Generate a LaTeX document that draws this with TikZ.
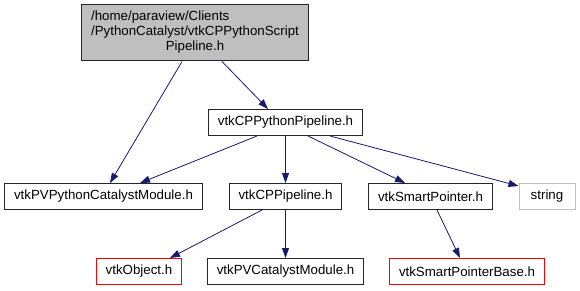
\documentclass[tikz,border=0pt]{standalone}
\usepackage{fontspec}
\setmainfont{Liberation Sans}
\usetikzlibrary{positioning,arrows.meta}
\definecolor{edgeblue}{HTML}{191970}
\definecolor{boxgray}{HTML}{BFBFBF}

\begin{document}
\begin{tikzpicture}[node distance=74pt,on grid,font=\fontsize{13.3}{15}\selectfont,
    header/.style={draw=black!85,line width=1pt,rectangle,inner xsep=9.5pt,inner ysep=0pt,minimum height=26pt},
    missing/.style={header,draw=red},
    syshdr/.style={header,draw=boxgray,minimum width=56pt},
    inc/.style={-{Triangle[length=10pt,width=7pt]},color=edgeblue,line width=0.8pt}]
    \useasboundingbox (0,0) rectangle (580pt,-291pt);
    \node[header,fill=boxgray,minimum height=56pt] (script) at (195pt,-33pt)
        {\begin{tabular}{@{}l@{}}/home/paraview/Clients\\/PythonCatalyst/vtkCPPythonScript\\
         \multicolumn{1}{@{}c@{}}{Pipeline.h}\end{tabular}};
    \node[header] (pypipe) [below right=89.5pt and 90.5pt of script] {vtkCPPythonPipeline.h};
    \node[header] (cppipe) [below=of pypipe] {vtkCPPipeline.h};
    \node[header] (pvpymod) [left=182pt of cppipe] {vtkPVPythonCatalystModule.h};
    \node[header] (smartptr) [right=145pt of cppipe] {vtkSmartPointer.h};
    \node[syshdr] (str) [right=116.5pt of smartptr] {string};
    \node[missing] (obj) [below left=75pt and 146.5pt of cppipe] {vtkObject.h};
    \node[header] (pvmod) [below=75pt of cppipe] {vtkPVCatalystModule.h};
    \node[missing] (smartbase) [below right=75pt and 36.5pt of smartptr] {vtkSmartPointerBase.h};
    \path[inc]
    ([xshift=-13pt]script.south) edge ([xshift=6.5pt]pvpymod.north)
    ([xshift=27pt]script.south) edge ([xshift=-17.5pt]pypipe.north)
    ([xshift=-28.5pt]pypipe.south) edge ([xshift=36.5pt]pvpymod.north)
    (pypipe) edge (cppipe)
    ([xshift=22.5pt]pypipe.south) edge ([xshift=-25.5pt]smartptr.north)
    ([xshift=44.5pt]pypipe.south) edge ([yshift=-3pt]str.north west)
    ([xshift=-23.5pt]cppipe.south) edge ([xshift=31pt]obj.north)
    (cppipe) edge (pvmod)
    ([xshift=6.5pt]smartptr.south) edge ([xshift=-7pt]smartbase.north)
    ;
\end{tikzpicture}
\end{document}
